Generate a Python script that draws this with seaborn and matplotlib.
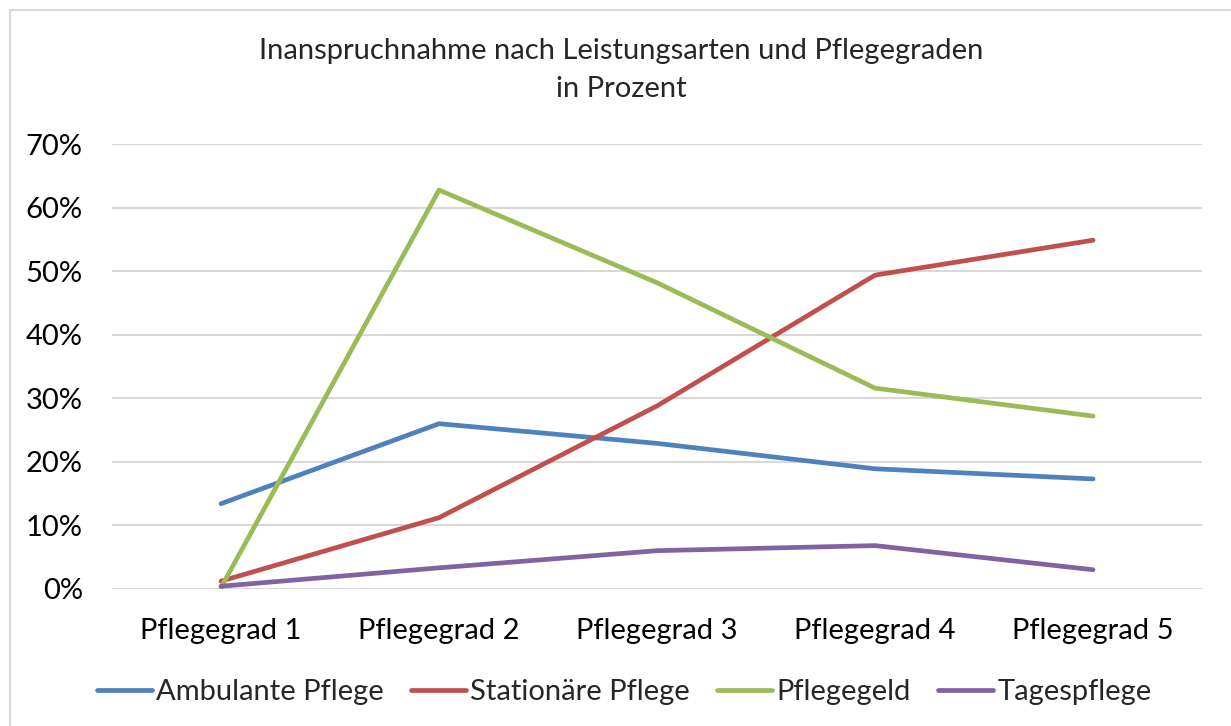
import pandas as pd
import matplotlib
matplotlib.use("Agg")
import matplotlib.pyplot as plt
from matplotlib.patches import Rectangle
from matplotlib.ticker import PercentFormatter
import seaborn as sns

grades = ["Pflegegrad 1", "Pflegegrad 2", "Pflegegrad 3", "Pflegegrad 4", "Pflegegrad 5"]
series_names = ["Ambulante Pflege", "Stationäre Pflege", "Pflegegeld", "Tagespflege"]
ambulant = [13.4, 26.0, 22.9, 18.9, 17.3]
stationaer = [1.2, 11.2, 28.8, 49.4, 54.9]
pflegegeld = [0.2, 62.8, 48.2, 31.6, 27.2]
tagespflege = [0.4, 3.3, 6.0, 6.8, 3.0]
colors = ["#4F81BD", "#C0504D", "#9BBB59", "#8064A2"]

rows = []
for name, vals in zip(series_names, [ambulant, stationaer, pflegegeld, tagespflege]):
    for g, v in zip(grades, vals):
        rows.append({"grad": g, "anteil": v, "art": name})
df = pd.DataFrame(rows)

sns.set_style("white")
plt.rcParams["font.family"] = ["Lato", "DejaVu Sans"]
fs = 21

fig = plt.figure(figsize=(12.31, 7.26), dpi=100)
ax = fig.add_axes([0.091, 0.189, 0.8855, 0.6122])

sns.lineplot(data=df, x="grad", y="anteil", hue="art", palette=colors,
             hue_order=series_names, sort=False, linewidth=3.4,
             solid_capstyle="round", solid_joinstyle="round", ax=ax)

ax.set_xlim(-0.5, 4.5)
ax.set_ylim(0, 70)
ax.set_yticks(range(0, 71, 10))
ax.yaxis.set_major_formatter(PercentFormatter(decimals=0))
ax.grid(axis="y", color="#D9D9D9", linewidth=1.5)
ax.set_axisbelow(True)
for s in ax.spines.values():
    s.set_visible(False)
ax.tick_params(axis="both", length=0, labelsize=fs, labelcolor="black")
ax.tick_params(axis="y", pad=21)
ax.tick_params(axis="x", pad=21)
ax.set_xlabel("")
ax.set_ylabel("")

ax.get_legend().remove()
handles, labels = ax.get_legend_handles_labels()
fig.legend(handles, labels, loc="center", bbox_to_anchor=(0.507, 0.0464), ncol=4,
           frameon=False, fontsize=fs, handlelength=1.9, handletextpad=0.14,
           columnspacing=0.92)

fig.text(0.5045, 0.9036, "Inanspruchnahme nach Leistungsarten und Pflegegraden\nin Prozent",
         ha="center", va="center", fontsize=fs, linespacing=1.55)

fig.patches.append(Rectangle((10 / 1231, -0.1), 1.2, 1 - 10 / 726 + 0.1,
                             transform=fig.transFigure, fill=False,
                             edgecolor="#D9D9D9", linewidth=1.5))

fig.savefig("out.png", dpi=100)
